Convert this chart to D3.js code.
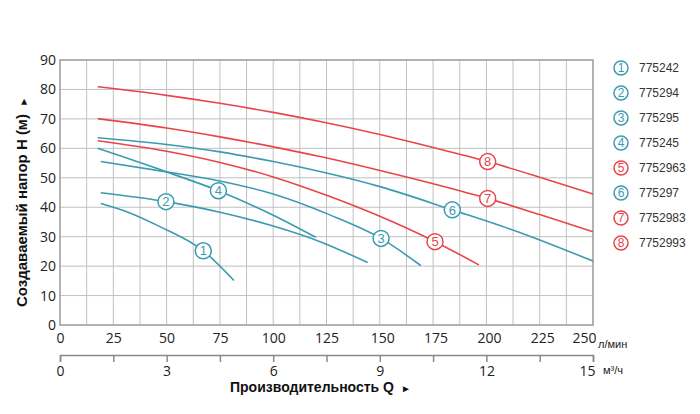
<!DOCTYPE html>
<html>
<head>
<meta charset="utf-8">
<script src="https://cdn.jsdelivr.net/npm/d3@7"></script>
<style>
  html, body { margin: 0; padding: 0; background: #ffffff; }
  svg { display: block; }
</style>
</head>
<body>
<svg id="chart" width="700" height="414"></svg>
<script>
// ---- data ----
const models = ["775242", "775294", "775295", "775245", "7752963", "775297", "7752983", "7752993"];
const groups = ["teal", "teal", "teal", "teal", "red", "teal", "red", "red"];

// flow Q (л/мин), head H (м)
const curve1 = [[19.1, 41.3], [31.3, 38.5], [46.9, 33.4], [67.2, 25.2], [81.6, 15.1]];
const curve2 = [[19.1, 44.9], [49.7, 41.9], [75, 38.3], [100, 33.6], [122, 28.3], [144.3, 21.2]];
const curve3 = [[19.1, 55.5], [50, 52.0], [74.3, 49.0], [100, 44.5], [126.6, 37.4], [150.6, 29.4], [169.2, 20.2]];
const curve4 = [[17.7, 60.0], [50, 52.0], [74.3, 45.6], [100, 37.3], [120, 29.8]];
const curve5 = [[17.7, 62.6], [50, 59.0], [75, 55.2], [100, 50.3], [126, 43.8], [150, 36.9], [175.9, 28.3], [196.5, 20.4]];
const curve6 = [[17.7, 63.6], [50, 61.3], [75, 58.8], [100, 55.5], [122, 52.1], [150, 47.0], [184, 39.1], [215, 31.6], [250, 21.7]];
const curve7 = [[17.7, 70.1], [50, 66.9], [75, 63.9], [100, 60.5], [122, 57.2], [150, 52.5], [175, 48.0], [200.6, 43.0], [225, 37.5], [250, 31.7]];
const curve8 = [[17.7, 80.9], [50, 78.0], [75, 75.3], [100, 72.2], [122, 69.1], [150, 64.7], [175, 60.3], [200.6, 55.5], [225, 50.2], [250, 44.5]];
const curves = [curve1, curve2, curve3, curve4, curve5, curve6, curve7, curve8];
// flow at which each numbered marker sits on its curve
const labelQ = [67.2, 49.7, 150.6, 74.3, 175.9, 184, 200.6, 200.6];

const flowTicks = [0, 25, 50, 75, 100, 125, 150, 175, 200, 225, 250];
const headTicks = [0, 10, 20, 30, 40, 50, 60, 70, 80, 90];
const m3Ticks = [0, 1.5, 3, 4.5, 6, 7.5, 9, 10.5, 12, 13.5, 15];

// ---- styles ----
const colors = { teal: "#3a9bb1", red: "#e8454a" };
const svg = d3.select("#chart");
const tickFont = "'Open Sans', 'Liberation Sans', sans-serif";

const x = d3.scaleLinear().domain([0, 250]).range([60, 593]);
const x2 = d3.scaleLinear().domain([0, 15]).range([60, 593]);
const y = d3.scaleLinear().domain([0, 90]).range([325, 60]);

// grid
const grid = svg.append("g");
grid.selectAll("line.v").data(d3.range(12.5, 250, 12.5)).join("line")
  .attr("x1", d => x(d)).attr("x2", d => x(d))
  .attr("y1", y(0)).attr("y2", y(90))
  .attr("stroke", "#c0c0c0").attr("stroke-width", 1);
grid.selectAll("line.h").data(headTicks.slice(1, -1)).join("line")
  .attr("x1", x(0)).attr("x2", x(250))
  .attr("y1", d => y(d)).attr("y2", d => y(d))
  .attr("stroke", "#c0c0c0").attr("stroke-width", 1);
svg.append("rect")
  .attr("x", x(0)).attr("y", y(90))
  .attr("width", x(250) - x(0)).attr("height", y(0) - y(90))
  .attr("fill", "none").attr("stroke", "#999").attr("stroke-width", 1.5);

// axes
const yAxis = svg.append("g").attr("transform", `translate(${x(0)},0)`)
  .call(d3.axisLeft(y).tickValues(headTicks).tickSize(0).tickPadding(4));
yAxis.select(".domain").remove();
yAxis.selectAll("text").attr("font-size", 14).attr("font-family", tickFont).attr("fill", "#222");

const xAxis = svg.append("g").attr("transform", `translate(0,${y(0)})`)
  .call(d3.axisBottom(x).tickValues(flowTicks).tickSize(0).tickPadding(8));
xAxis.select(".domain").remove();
xAxis.selectAll("text").attr("font-size", 14).attr("font-family", tickFont).attr("fill", "#222")
  .attr("dx", d => (d >= 150 && d < 250 ? 2.5 : 0));
xAxis.selectAll("text").filter(d => d === 250).attr("text-anchor", "end").attr("dx", 3);

const x2Axis = svg.append("g").attr("transform", `translate(0,355)`)
  .call(d3.axisBottom(x2).tickValues(m3Ticks).tickSize(7).tickPadding(4)
    .tickFormat(d => (d % 3 === 0 ? d : "")));
x2Axis.select(".domain").attr("stroke", "#888").attr("stroke-width", 1.5);
x2Axis.selectAll(".tick line").attr("stroke", "#888").attr("stroke-width", 1.5);
x2Axis.selectAll("text").attr("font-size", 14).attr("font-family", tickFont).attr("fill", "#222");
x2Axis.selectAll("text").filter(d => d === 15).attr("text-anchor", "end").attr("dx", 2);

// unit labels
svg.append("text").attr("x", 598).attr("y", 348).text("л/мин")
  .attr("font-size", 11).attr("font-family", "'Liberation Sans', sans-serif").attr("fill", "#222");
svg.append("text").attr("x", 603).attr("y", 374).text("м³/ч")
  .attr("font-size", 11).attr("font-family", "'Liberation Sans', sans-serif").attr("fill", "#222");

// titles
const xt = svg.append("text").attr("x", 230).attr("y", 392)
  .attr("font-size", 14).attr("font-weight", "bold")
  .attr("font-family", "'Liberation Sans', sans-serif").attr("fill", "#111");
xt.append("tspan").text("Производительность Q ");
xt.append("tspan").text("►").attr("font-size", 10).attr("dx", 3);

const yt = svg.append("text").attr("transform", "translate(27,307) rotate(-90)")
  .attr("font-size", 15).attr("font-weight", "bold")
  .attr("font-family", "'Liberation Sans', sans-serif").attr("fill", "#111");
yt.append("tspan").text("Создаваемый напор H (м) ");
yt.append("tspan").text("►").attr("font-size", 10).attr("dx", 3);

// curves
const line = d3.line().x(d => x(d[0])).y(d => y(d[1])).curve(d3.curveMonotoneX);
svg.append("g").selectAll("path").data(curves).join("path")
  .attr("d", line)
  .attr("fill", "none")
  .attr("stroke", (d, i) => colors[groups[i]])
  .attr("stroke-width", 1.6);

// numbered markers on curves
const markers = svg.append("g").selectAll("g").data(curves).join("g")
  .attr("transform", (d, i) => {
    const p = d.find(pt => pt[0] === labelQ[i]);
    return `translate(${x(p[0])},${y(p[1])})`;
  });
markers.append("circle").attr("r", 8).attr("fill", "#fff")
  .attr("stroke", (d, i) => colors[groups[i]]).attr("stroke-width", 1.5);
markers.append("text").text((d, i) => i + 1)
  .attr("text-anchor", "middle").attr("dy", "0.36em")
  .attr("font-size", 13).attr("font-family", "'Liberation Sans', sans-serif")
  .attr("fill", (d, i) => colors[groups[i]]);

// legend
const legend = svg.append("g").selectAll("g").data(models).join("g")
  .attr("transform", (d, i) => `translate(621,${68 + i * 25})`);
legend.append("circle").attr("r", 7).attr("fill", "#fff")
  .attr("stroke", (d, i) => colors[groups[i]]).attr("stroke-width", 1.5);
legend.append("text").text((d, i) => i + 1)
  .attr("text-anchor", "middle").attr("dy", "0.36em")
  .attr("font-size", 12).attr("font-family", "'Liberation Sans', sans-serif")
  .attr("fill", (d, i) => colors[groups[i]]);
legend.append("text").text(d => d)
  .attr("x", 18).attr("dy", "0.36em")
  .attr("font-size", 12).attr("font-family", "'Liberation Sans', sans-serif")
  .attr("fill", "#333");
</script>
</body>
</html>
